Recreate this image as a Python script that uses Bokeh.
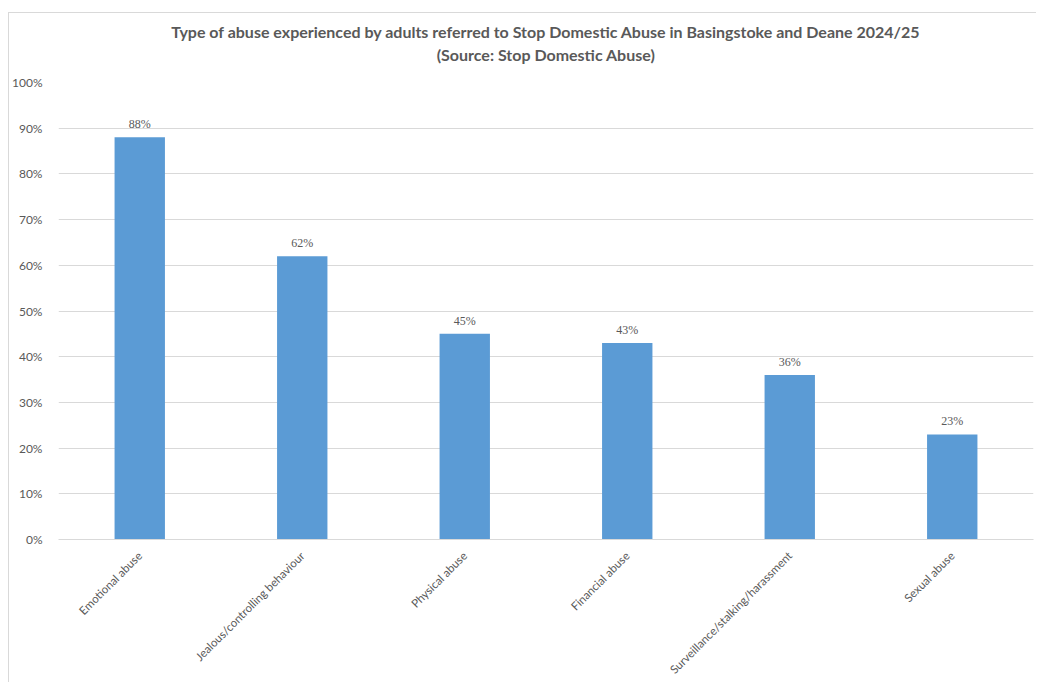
from bokeh.plotting import figure
from bokeh.models import ColumnDataSource, LabelSet, Title, NumeralTickFormatter, FixedTicker, FactorRange, Range1d
from bokeh.embed import file_html
from bokeh.resources import INLINE
import math

categories = ["Emotional abuse", "Jealous/controlling behaviour", "Physical abuse",
              "Financial abuse", "Surveillance/stalking/harassment", "Sexual abuse"]
values = [0.88, 0.62, 0.45, 0.43, 0.36, 0.23]
value_labels = ["88%", "62%", "45%", "43%", "36%", "23%"]
y_ticks = [0.0, 0.1, 0.2, 0.3, 0.4, 0.5, 0.6, 0.7, 0.8, 0.9, 1.0]

title1 = "Type of abuse experienced by adults referred to Stop Domestic Abuse in Basingstoke and Deane 2024/25"
title2 = "(Source: Stop Domestic Abuse)"

FONT = "Lato"
GRAY = "#595959"

src = ColumnDataSource(dict(cat=categories, val=values, lab=value_labels))

p = figure(width=1028, height=670, output_backend="svg", toolbar_location=None,
           x_range=FactorRange(*categories, range_padding=0), y_range=Range1d(0, 1),
           min_border_left=49, min_border_right=4, min_border_top=69, min_border_bottom=0)
p.styles = {"border-top": "1px solid #d9d9d9", "border-left": "1px solid #d9d9d9",
            "margin-top": "12px", "margin-left": "8px"}

p.title.visible = False
# spacer between the plot area and the subtitle
p.add_layout(Title(text=" ", text_font_size="2px", standoff=13), "above")
p.add_layout(Title(text=title2, align="center", text_font=FONT, text_font_size="16px",
                   text_font_style="bold", text_color=GRAY, standoff=3), "above")
p.add_layout(Title(text=title1, align="center", text_font=FONT, text_font_size="16px",
                   text_font_style="bold", text_color=GRAY, standoff=2), "above")

p.vbar(x="cat", top="val", width=0.31, source=src, fill_color="#5B9BD5", line_color=None)

labels = LabelSet(x="cat", y="val", text="lab", source=src, text_align="center",
                  text_baseline="bottom", y_offset=6, text_font=FONT,
                  text_font_size="12px", text_color=GRAY)
p.add_layout(labels)

p.outline_line_color = None
p.xgrid.grid_line_color = None
p.ygrid.grid_line_color = "#d9d9d9"
p.ygrid.grid_line_width = 1

p.yaxis.ticker = FixedTicker(ticks=y_ticks)
p.yaxis.formatter = NumeralTickFormatter(format="0%")
p.yaxis.axis_line_color = None
p.yaxis.major_tick_line_color = None
p.yaxis.minor_tick_line_color = None
p.yaxis.major_label_text_font = FONT
p.yaxis.major_label_text_font_size = "12px"
p.yaxis.major_label_text_color = GRAY
p.yaxis.major_label_standoff = 10

p.xaxis.axis_line_color = "#d9d9d9"
p.xaxis.major_tick_line_color = None
p.xaxis.minor_tick_line_color = None
p.xaxis.major_label_orientation = math.pi / 4
p.xaxis.major_label_text_font = FONT
p.xaxis.major_label_text_font_size = "11.5px"
p.xaxis.major_label_text_color = GRAY
p.xaxis.major_label_standoff = 8

open("out.html", "w").write(file_html(p, INLINE))
